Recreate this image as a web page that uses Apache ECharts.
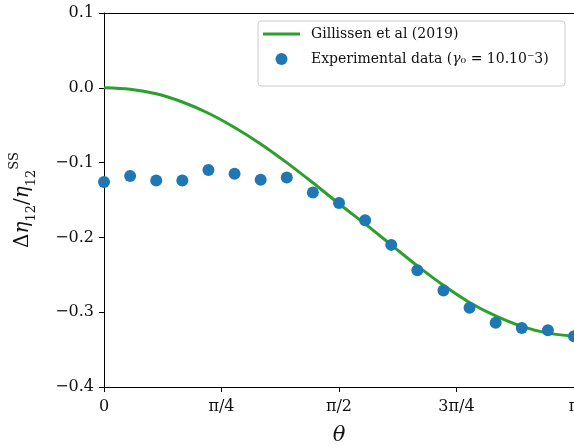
<!DOCTYPE html>
<html>
<head>
<meta charset="utf-8">
<script src="https://cdn.jsdelivr.net/npm/echarts@6/dist/echarts.min.js"></script>
<style>
html,body{margin:0;padding:0;background:#fff;}
#chart{width:574px;height:448px;}
</style>
</head>
<body>
<div id="chart"></div>
<script>
// theta in degrees (0..180, step 10)
var thetaDeg = [0,10,20,30,40,50,60,70,80,90,100,110,120,130,140,150,160,170,180];
// Gillissen et al (2019) model curve
var modelValues = [0,-0.002,-0.008,-0.019,-0.034,-0.053,-0.075,-0.100,-0.127,-0.155,-0.182,-0.210,-0.238,-0.264,-0.287,-0.305,-0.319,-0.328,-0.332];
// Experimental data
var expValues = [-0.126,-0.118,-0.124,-0.124,-0.110,-0.115,-0.123,-0.120,-0.140,-0.154,-0.177,-0.210,-0.244,-0.271,-0.294,-0.314,-0.321,-0.324,-0.332];
// tick labels for x axis (every 45 degrees)
var xTickLabels = {0:'0',45:'π/4',90:'π/2',135:'3π/4',180:'π'};

var FONT = '"DejaVu Serif", serif';
var chart = echarts.init(document.getElementById('chart'), null, {renderer:'canvas'});

function pairs(xs, ys){ return xs.map(function(x,i){return [x, ys[i]];}); }

var option = {
  backgroundColor:'#fff',
  animation:false,
  grid:{left:104, top:13, right:0, bottom:61, containLabel:false, outerBoundsMode:'none'},
  graphic:[{
    type:'rect', z:5,
    shape:{x:258,y:21,width:307,height:65,r:3},
    style:{fill:'rgba(255,255,255,0.8)', stroke:'#cccccc', lineWidth:1}
  }],
  legend:{
    orient:'vertical', left:263, top:27, z:10,
    itemWidth:37, itemHeight:12, itemGap:11,
    padding:0, symbolKeepAspect:true,
    data:[{name:'model', icon:'path://M0,0H37V3H0Z'}, {name:'exp', icon:'circle'}],
    textStyle:{fontFamily:FONT, fontSize:14, color:'#111',
      rich:{
        n:{fontFamily:FONT, fontSize:14, color:'#111'},
        f:{fontFamily:FONT, fontSize:14, color:'#111', padding:[0,0,0,6]},
        it:{fontFamily:FONT, fontSize:14, fontStyle:'italic', color:'#111'}
      }
    },
    formatter:function(name){
      if(name==='model') return '{f|Gillissen et al (2019)}';
      return '{f|Experimental data (}{it|γ}{n|₀ = 10.10⁻3)}';
    }
  },
  xAxis:[{
    type:'value', min:0, max:180, interval:45,
    name:'θ', nameLocation:'middle', nameGap:38,
    nameTextStyle:{fontFamily:FONT, fontSize:21, fontStyle:'italic', color:'#111'},
    axisLine:{show:true, onZero:false, lineStyle:{color:'#000', width:1}},
    axisTick:{show:true, inside:false, length:5, lineStyle:{color:'#000'}},
    axisLabel:{show:true, margin:12, fontFamily:FONT, fontSize:16, color:'#111',
      showMaxLabel:true, showMinLabel:true, hideOverlap:false,
      formatter:function(v){ return xTickLabels[v] !== undefined ? xTickLabels[v] : ''; }},
    splitLine:{show:false}
  },{
    type:'value', position:'top', min:0, max:180, interval:45,
    axisLine:{show:true, onZero:false, lineStyle:{color:'#000', width:1}},
    axisTick:{show:false}, axisLabel:{show:false}, splitLine:{show:false}
  }],
  yAxis:{
    type:'value', min:-0.4, max:0.1, interval:0.1,
    name:'{d|Δ}{e|η}{s|12}{n|/}{e|η}{s|12}{p|SS}',
    nameLocation:'middle', nameRotate:90, nameGap:66,
    nameTextStyle:{
      rich:{
        d:{fontFamily:FONT, fontSize:20, color:'#111', lineHeight:30, verticalAlign:'middle'},
        e:{fontFamily:FONT, fontSize:20, fontStyle:'italic', color:'#111', lineHeight:30, verticalAlign:'middle'},
        n:{fontFamily:FONT, fontSize:20, color:'#111', lineHeight:30, verticalAlign:'middle'},
        s:{fontFamily:FONT, fontSize:13, color:'#111', verticalAlign:'bottom', lineHeight:13},
        p:{fontFamily:FONT, fontSize:13, color:'#111', verticalAlign:'top', lineHeight:13}
      }
    },
    axisLine:{show:true, onZero:false, lineStyle:{color:'#000', width:1}},
    axisTick:{show:true, length:5, lineStyle:{color:'#000'}},
    axisLabel:{margin:10, fontFamily:FONT, fontSize:16, color:'#111',
      formatter:function(v){ return (Math.round(v*10)/10).toFixed(1).replace('-', '−'); }},
    splitLine:{show:false}
  },
  series:[{
    name:'model', type:'line', xAxisIndex:0,
    data:pairs(thetaDeg, modelValues),
    showSymbol:false, symbol:'none', smooth:0.3,
    lineStyle:{color:'#2ca02c', width:3},
    itemStyle:{color:'#2ca02c'},
    z:2
  },{
    name:'exp', type:'scatter', xAxisIndex:0,
    data:pairs(thetaDeg, expValues),
    symbol:'circle', symbolSize:12,
    itemStyle:{color:'#1f77b4', opacity:1},
    z:3
  }]
};
chart.setOption(option);
</script>
</body>
</html>
